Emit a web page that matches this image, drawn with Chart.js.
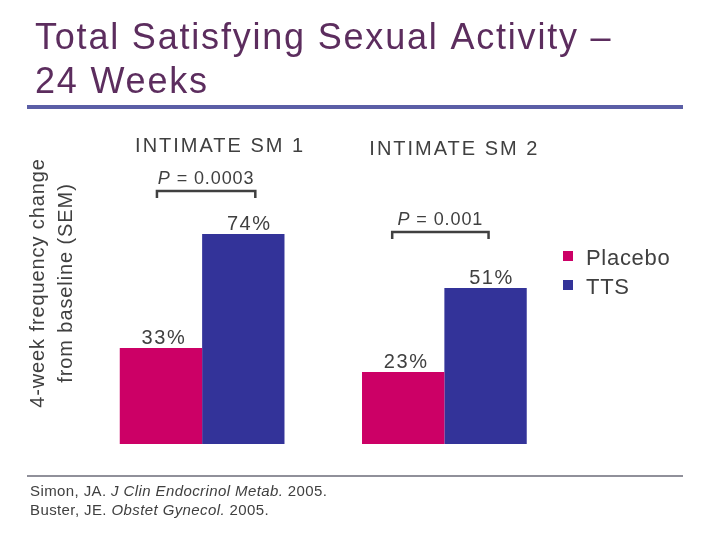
<!DOCTYPE html>
<html>
<head>
<meta charset="utf-8">
<script src="https://cdn.jsdelivr.net/npm/chart.js@4.4.0/dist/chart.umd.min.js"></script>
<style>
  html, body { margin: 0; padding: 0; background: #fff; }
  #wrap { width: 720px; height: 540px; position: relative; }
</style>
</head>
<body>
<div id="wrap"><canvas id="satChart" width="720" height="540"></canvas></div>
<script>
const studies = ['INTIMATE SM 1', 'INTIMATE SM 2'];
const placeboChange = [0.96, 0.72];
const ttsChange = [2.10, 1.56];
const placeboPct = ['33%', '23%'];
const ttsPct = ['74%', '51%'];
const pValues = ['0.0003', '0.001'];

const textGrey = '#404040';
const font = '"Liberation Sans", Arial, sans-serif';

const decorPlugin = {
    id: 'decor',
    afterDraw(chart) {
        const ctx = chart.ctx;
        ctx.save();

        // title
        ctx.fillStyle = '#5c2d5e';
        ctx.font = `36px ${font}`;
        ctx.letterSpacing = '1.8px';
        ctx.textAlign = 'left';
        ctx.textBaseline = 'alphabetic';
        ctx.fillText('Total Satisfying Sexual Activity \u2013', 35, 49);
        ctx.fillText('24 Weeks', 35, 93);
        ctx.fillStyle = '#5b5ea6';
        ctx.fillRect(27, 105, 656, 4);

        // bottom rule + refs
        ctx.strokeStyle = '#6b6b78';
        ctx.lineWidth = 1.5;
        ctx.beginPath();
        ctx.moveTo(27, 476);
        ctx.lineTo(683, 476);
        ctx.stroke();

        ctx.fillStyle = textGrey;
        ctx.letterSpacing = '0.4px';
        const refLine = (x, y, parts) => {
            parts.forEach(([txt, it]) => {
                ctx.font = `${it ? 'italic ' : ''}15px ${font}`;
                ctx.fillText(txt, x, y);
                x += ctx.measureText(txt).width;
            });
        };
        refLine(30, 496, [['Simon, JA. ', false], ['J Clin Endocrinol Metab.', true], [' 2005.', false]]);
        refLine(30, 515, [['Buster, JE. ', false], ['Obstet Gynecol.', true], [' 2005.', false]]);

        // y axis title
        ctx.save();
        ctx.translate(0, 283);
        ctx.rotate(-Math.PI / 2);
        ctx.textAlign = 'center';
        ctx.font = `20px ${font}`;
        ctx.letterSpacing = '0.9px';
        ctx.fillText('4-week frequency change', 0, 44);
        ctx.fillText('from baseline (SEM)', 0, 72);
        ctx.restore();

        const m0 = chart.getDatasetMeta(0).data;
        const m1 = chart.getDatasetMeta(1).data;

        // study headers
        ctx.textAlign = 'center';
        ctx.font = `20px ${font}`;
        ctx.letterSpacing = '2px';
        const headerY = [152, 155];
        studies.forEach((s, i) => {
            const cx = (m0[i].x + m1[i].x) / 2;
            ctx.fillText(s, cx + 18 - 8 * i, headerY[i]);
        });

        // value labels
        ctx.letterSpacing = '1.6px';
        m0.forEach((b, i) => ctx.fillText(placeboPct[i], b.x + 3, b.y - 4));
        m1.forEach((b, i) => ctx.fillText(ttsPct[i], b.x + 6, b.y - 4));

        // p-value brackets
        const bracketY = [191, 232];
        const padL = [4, 11], padR = [12, 3];
        ctx.strokeStyle = textGrey;
        ctx.lineWidth = 2.5;
        ctx.letterSpacing = '0.9px';
        pValues.forEach((p, i) => {
            const x1 = m0[i].x - padL[i], x2 = m1[i].x + padR[i];
            const y = bracketY[i];
            ctx.beginPath();
            ctx.moveTo(x1, y + 7);
            ctx.lineTo(x1, y);
            ctx.lineTo(x2, y);
            ctx.lineTo(x2, y + 7);
            ctx.stroke();
            const cx = (x1 + x2) / 2;
            ctx.font = `italic 18px ${font}`;
            const pw = ctx.measureText('P').width;
            ctx.font = `18px ${font}`;
            const rest = ' = ' + p;
            const rw = ctx.measureText(rest).width;
            const sx = cx - (pw + rw) / 2;
            ctx.textAlign = 'left';
            ctx.font = `italic 18px ${font}`;
            ctx.fillText('P', sx, y - 7);
            ctx.font = `18px ${font}`;
            ctx.fillText(rest, sx + pw, y - 7);
            ctx.textAlign = 'center';
        });

        // legend
        ctx.textAlign = 'left';
        ctx.font = `22px ${font}`;
        ctx.letterSpacing = '0.7px';
        chart.data.datasets.forEach((ds, i) => {
            const y = 251 + i * 29;
            ctx.fillStyle = ds.backgroundColor;
            ctx.fillRect(563, y, 10, 10);
            ctx.fillStyle = textGrey;
            ctx.fillText(ds.label, 586, y + 14);
        });

        ctx.restore();
    }
};

const chartData = {
    labels: studies,
    datasets: [
        {
            label: 'Placebo',
            data: placeboChange,
            backgroundColor: '#cc0066',
            categoryPercentage: 0.68,
            barPercentage: 1.0
        },
        {
            label: 'TTS',
            data: ttsChange,
            backgroundColor: '#333399',
            categoryPercentage: 0.68,
            barPercentage: 1.0
        }
    ]
};

const satChart = new Chart(document.getElementById('satChart'), {
    type: 'bar',
    data: chartData,
    options: {
        responsive: false,
        animation: false,
        devicePixelRatio: 1,
        layout: { padding: { left: 81, right: 154.5, top: 144, bottom: 96 } },
        scales: {
            x: { display: false },
            y: { display: false, min: 0, max: 3 }
        },
        plugins: {
            legend: { display: false },
            tooltip: { enabled: false }
        }
    },
    plugins: [decorPlugin]
});
</script>
</body>
</html>
